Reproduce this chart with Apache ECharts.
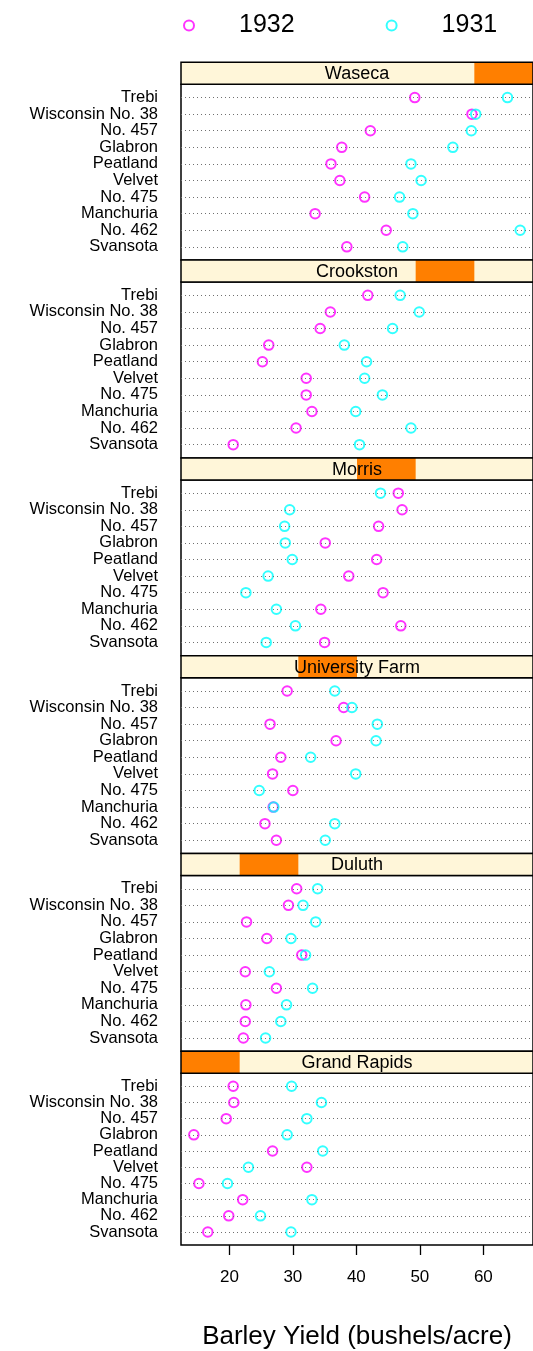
<!DOCTYPE html>
<html>
<head>
<meta charset="utf-8">
<script src="https://cdn.jsdelivr.net/npm/echarts@6/dist/echarts.min.js"></script>
<style>
html,body{margin:0;padding:0;background:#fff;}
#chart{width:533px;height:1351px;}
</style>
</head>
<body>
<div id="chart"></div>
<script>
// ---- data ----
const varieties = ["Trebi","Wisconsin No. 38","No. 457","Glabron","Peatland","Velvet","No. 475","Manchuria","No. 462","Svansota"];
const sites = ["Waseca","Crookston","Morris","University Farm","Duluth","Grand Rapids"];
const siteLevel = [5,4,3,2,1,0];
const years = ["1932","1931"];
const xTicks = [20,30,40,50,60];

const y1932_Waseca      = [49.2,58.2,42.2,37.7,36.0,37.4,41.3,33.5,44.7,38.5];
const y1932_Crookston   = [41.8,35.9,34.3,26.2,25.2,32.1,32.1,33.0,30.5,20.6];
const y1932_Morris      = [46.6,47.2,43.5,35.1,43.2,38.8,44.2,34.4,47.0,35.0];
const y1932_UnivFarm    = [29.1,38.0,26.4,36.8,28.1,26.8,30.0,26.9,25.6,27.4];
const y1932_Duluth      = [30.6,29.3,22.7,25.9,31.4,22.5,27.4,22.6,22.5,22.2];
const y1932_GrandRapids = [20.6,20.7,19.5,14.4,26.8,32.2,15.2,22.1,19.9,16.6];

const y1931_Waseca      = [63.8,58.8,58.1,55.2,48.6,50.2,46.8,48.9,65.8,47.3];
const y1931_Crookston   = [46.9,49.9,45.7,38.1,41.6,41.3,44.1,39.9,48.6,40.5];
const y1931_Morris      = [43.8,29.5,28.7,28.8,29.9,26.1,22.6,27.4,30.4,25.8];
const y1931_UnivFarm    = [36.6,39.3,43.3,43.1,32.8,39.9,24.7,27.0,36.6,35.1];
const y1931_Duluth      = [33.9,31.6,33.6,29.7,32.0,26.3,33.1,29.0,28.1,25.7];
const y1931_GrandRapids = [29.8,34.5,32.2,29.1,34.7,23.0,19.7,33.0,24.9,29.7];

const data1932 = [y1932_Waseca,y1932_Crookston,y1932_Morris,y1932_UnivFarm,y1932_Duluth,y1932_GrandRapids];
const data1931 = [y1931_Waseca,y1931_Crookston,y1931_Morris,y1931_UnivFarm,y1931_Duluth,y1931_GrandRapids];

// ---- layout ----
const FONT = "Liberation Sans, Arial, Helvetica, sans-serif";
const LEFT = 181, WIDTH = 352;
const TOP0 = 62.3, STEP = 197.8, STRIP_H = 22, PANEL_H = 175.8;
const XMIN = 12.38, XMAX = 67.82;
const YMIN = 0.2, YMAX = 10.8;
const colors = {"1932":"#ff00ff","1931":"#00ffff"};
const N = varieties.length;
const yVal = k => N - k;
const yLabelValues = [YMIN].concat(varieties.map((_, k) => yVal(k)).reverse(), [YMAX]);

const grids = [], xAxes = [], yAxes = [], series = [], graphics = [];

sites.forEach((site, i) => {
  const stripTop = TOP0 + i*STEP;
  grids.push({left: LEFT, width: WIDTH, top: stripTop + STRIP_H, height: PANEL_H,
    show: true, borderColor: '#000', borderWidth: 1.5, backgroundColor: '#fff', containLabel: false});
  const last = i === sites.length - 1;
  xAxes.push({
    type: 'value', gridIndex: i, min: XMIN, max: XMAX, position: 'bottom',
    axisLine: {show: false},
    axisTick: last ? {show: true, inside: false, length: 10, customValues: xTicks, lineStyle: {color: '#000', width: 1.3}} : {show: false},
    axisLabel: last ? {show: true, customValues: xTicks, fontSize: 17, fontFamily: FONT, color: '#000', margin: 24} : {show: false},
    splitLine: {show: false},
    name: last ? 'Barley Yield (bushels/acre)' : '',
    nameLocation: 'middle', nameGap: 79,
    nameTextStyle: {fontSize: 26, fontFamily: FONT, color: '#000'}
  });
  yAxes.push({
    type: 'value', gridIndex: i, min: YMIN, max: YMAX,
    axisLine: {show: false}, axisTick: {show: false}, splitLine: {show: false},
    axisLabel: {show: true, customValues: yLabelValues,
      showMinLabel: false, showMaxLabel: false, hideOverlap: false,
      formatter: v => {
        const r = Math.round(v);
        return (Math.abs(v - r) < 1e-6 && r >= 1 && r <= N) ? varieties[N - r] : '';
      },
      fontSize: 16.5, fontFamily: FONT, color: '#000', margin: 23}
  });
  // dotted guide lines + points
  const d32 = data1932[i], d31 = data1931[i];
  series.push({
    type: 'scatter', name: '1932', xAxisIndex: i, yAxisIndex: i,
    data: d32.map((v, k) => [v, yVal(k)]),
    symbol: 'circle', symbolSize: 9.5,
    itemStyle: {color: 'rgba(255,255,255,0)', borderColor: colors['1932'], borderWidth: 2},
    emphasis: {disabled: true}, silent: true, z: 3,
    markLine: {
      silent: true, symbol: ['none','none'], label: {show: false}, animation: false,
      lineStyle: {type: [1,3], color: '#707070', width: 1},
      emphasis: {disabled: true},
      data: varieties.map((_, k) => ({yAxis: yVal(k)}))
    }
  });
  series.push({
    type: 'scatter', name: '1931', xAxisIndex: i, yAxisIndex: i,
    data: d31.map((v, k) => [v, yVal(k)]),
    symbol: 'circle', symbolSize: 9.5,
    itemStyle: {color: 'rgba(255,255,255,0)', borderColor: colors['1931'], borderWidth: 2},
    emphasis: {disabled: true}, silent: true, z: 4
  });
  // strip
  const segW = WIDTH / sites.length;
  graphics.push({type: 'rect', shape: {x: LEFT, y: stripTop, width: WIDTH, height: STRIP_H},
    style: {fill: '#fff6d9', stroke: null}, z: 10});
  graphics.push({type: 'rect', shape: {x: LEFT + siteLevel[i]*segW, y: stripTop, width: segW, height: STRIP_H},
    style: {fill: '#ff7f00', stroke: null}, z: 11});
  graphics.push({type: 'rect', shape: {x: LEFT, y: stripTop, width: WIDTH, height: STRIP_H},
    style: {fill: null, stroke: '#000', lineWidth: 1.5}, z: 12});
  graphics.push({type: 'text', x: LEFT + WIDTH/2, y: stripTop + STRIP_H/2 + 1,
    style: {text: site, fill: '#000', font: '18px ' + FONT, textAlign: 'center', textVerticalAlign: 'middle'}, z: 13});
});

// top axis ticks (above first strip)
grids.push({left: LEFT, width: WIDTH, top: TOP0, height: STRIP_H, show: false});
xAxes.push({type: 'value', gridIndex: 6, min: XMIN, max: XMAX, position: 'top',
  axisLine: {show: false},
  axisTick: {show: true, inside: false, length: 10, customValues: xTicks, lineStyle: {color: '#000', width: 1.3}},
  axisLabel: {show: false}, splitLine: {show: false}});
yAxes.push({type: 'value', gridIndex: 6, min: 0, max: 1, show: false});

const chart = echarts.init(document.getElementById('chart'), null, {renderer: 'canvas'});
chart.setOption({
  animation: false,
  backgroundColor: '#fff',
  textStyle: {fontFamily: FONT},
  legend: {
    data: years, left: 178, top: 8, itemWidth: 10, itemHeight: 10, itemGap: 91,
    selectedMode: false,
    itemStyle: {borderWidth: 2},
    textStyle: {fontSize: 25, fontFamily: FONT, color: '#000', padding: [0, 0, 0, 40]}
  },
  grid: grids, xAxis: xAxes, yAxis: yAxes, series: series,
  graphic: {elements: graphics}
});
</script>
</body>
</html>
